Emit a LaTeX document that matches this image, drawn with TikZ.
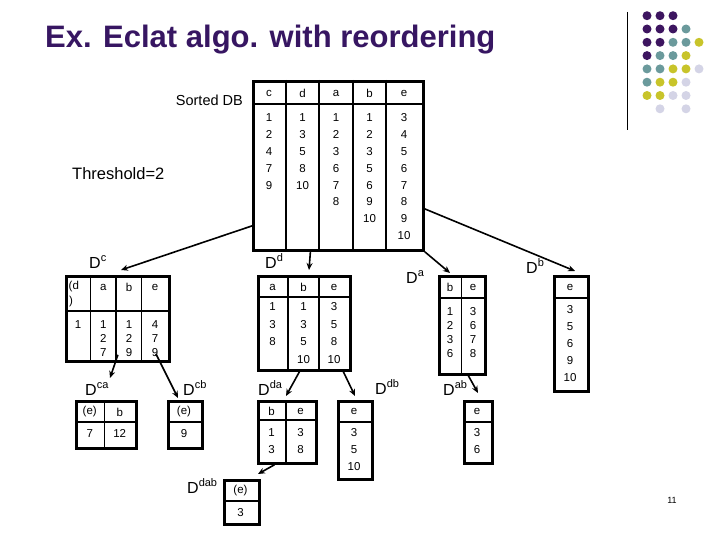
\documentclass[tikz,border=0pt]{standalone}
\usepackage{fontspec}
\setmainfont{Liberation Sans}
\usetikzlibrary{arrows.meta}
\definecolor{titlepurple}{RGB}{55,22,98}
\definecolor{dP}{RGB}{61,21,96}
\definecolor{dT}{RGB}{107,154,156}
\definecolor{dY}{RGB}{200,196,42}
\definecolor{dL}{RGB}{212,212,230}
\tikzset{
  dbtab/.style={draw, line width=2.8pt, inner sep=0pt, anchor=north west},
  divline/.style={line width=1.3pt},
  cell/.style={inner sep=0pt, font=\fontsize{11.5}{13}\selectfont},
  setlabel/.style={inner sep=0pt, anchor=base west, font=\fontsize{16}{16}\selectfont},
  arrow/.style={-{Stealth[length=7pt,width=6pt]}, line width=1.6pt}
}
\newcommand\dsub[1]{D\raisebox{7pt}{\fontsize{11}{11}\selectfont #1}}
\begin{document}
\begin{tikzpicture}[x=1pt,y=-1pt]
  \useasboundingbox (0,0) rectangle (720,540);
  \fill[white] (0,0) rectangle (720,540);

  % title and corner decoration
  \node[anchor=base west, inner sep=0pt, text=titlepurple, font=\fontsize{31}{31}\selectfont\bfseries] (title) at (45,48) {Ex. Eclat algo. with reordering};
  \draw[line width=1pt] (627,12) -- (627,130);
  \foreach \r/\cols in {1/{P,P,P},2/{P,P,P,T},3/{P,P,T,T,Y},4/{P,T,T,Y},5/{T,T,Y,Y,L},6/{T,Y,Y,L},7/{Y,Y,L,L}}
    \foreach \c [count=\i] in \cols
      \fill[fill=d\c] ({647+13*(\i-1)},{15.7+13.3*(\r-1)}) circle (4.5);
  \fill[dL] (660,108.8) circle (4.5);
  \fill[dL] (686,108.8) circle (4.5);

  \node[anchor=base east, inner sep=0pt, font=\fontsize{14.5}{14.5}\selectfont] (sortlbl) at (243,106) {Sorted DB};
  \node[anchor=base west, inner sep=0pt, font=\fontsize{16.5}{16.5}\selectfont] (thrlbl) at (72,180) {Threshold=2};

  % sorted database
  \node[dbtab, minimum width=170pt, minimum height=169pt] (sdb) at (252,80) {};
  \draw[divline] ([yshift=-24pt]sdb.north west) -- ([yshift=-24pt]sdb.north east);
  \foreach \dx in {34,67,101,134}
    \draw[divline] ([xshift=\dx pt]sdb.north west) -- ([xshift=\dx pt]sdb.south west);
  \foreach \x/\h in {269/c,302.5/d,336/a,369.5/b,404/e}
    \node[cell] (sdb-\h) at (\x,93) {\h};
  \foreach \x/\vals [count=\k] in {269/{1,2,4,7,9},302.5/{1,3,5,8,10},336/{1,2,3,6,7,8},369.5/{1,2,3,5,6,9,10},404/{3,4,5,6,7,8,9,10}}
    \foreach \v [count=\i] in \vals
      \node[cell] (sdb-\k-\i) at (\x,{118+16.8*(\i-1)}) {\v};

  % D^c
  \node[setlabel] (lbl-dc) at (89,268) {\dsub{c}};
  \node[dbtab, minimum width=103pt, minimum height=85pt] (dc) at (65,275) {};
  \draw[divline] ([yshift=-36pt]dc.north west) -- ([yshift=-36pt]dc.north east);
  \foreach \dx in {25.7,51,76.7}
    \draw[divline] ([xshift=\dx pt]dc.north west) -- ([xshift=\dx pt]dc.south west);
  \node[cell, anchor=west] (dc-d1) at (68.5,287) {(d};
  \node[cell, anchor=west] (dc-d2) at (69,301.5) {)};
  \foreach \x/\h in {103.3/a,129/b,155/e}
    \node[cell] (dc-\h) at (\x,287) {\h};
  \foreach \x/\vals [count=\k] in {78/{1},103.3/{1,2,7},129/{1,2,9},155/{4,7,9}}
    \foreach \v [count=\i] in \vals
      \node[cell] (dc-\k-\i) at (\x,{325+13.8*(\i-1)}) {\v};

  % D^d
  \node[setlabel] (lbl-dd) at (265,268) {\dsub{d}};
  \node[dbtab, minimum width=92pt, minimum height=94pt] (dd) at (257,275) {};
  \draw[divline] ([yshift=-22pt]dd.north west) -- ([yshift=-22pt]dd.north east);
  \foreach \dx in {31,62}
    \draw[divline] ([xshift=\dx pt]dd.north west) -- ([xshift=\dx pt]dd.south west);
  \foreach \x/\h in {272.5/a,303.5/b,334/e}
    \node[cell] (dd-\h) at (\x,287) {\h};
  \foreach \x/\vals [count=\k] in {272.5/{1,3,8},303.5/{1,3,5,10},334/{3,5,8,10}}
    \foreach \v [count=\i] in \vals
      \node[cell] (dd-\k-\i) at (\x,{306.7+17.6*(\i-1)}) {\v};

  % D^a
  \node[setlabel] (lbl-da) at (406,283) {\dsub{a}};
  \node[dbtab, minimum width=46pt, minimum height=98pt] (da) at (438,275) {};
  \draw[divline] ([yshift=-23pt]da.north west) -- ([yshift=-23pt]da.north east);
  \draw[divline] ([xshift=23.5pt]da.north west) -- ([xshift=23.5pt]da.south west);
  \foreach \x/\h in {450/b,473/e}
    \node[cell] (da-\h) at (\x,287.7) {\h};
  \foreach \x/\vals [count=\k] in {450/{1,2,3,6},473/{3,6,7,8}}
    \foreach \v [count=\i] in \vals
      \node[cell] (da-\k-\i) at (\x,{311.7+14*(\i-1)}) {\v};

  % D^b
  \node[setlabel] (lbl-db) at (526,273) {\dsub{b}};
  \node[dbtab, minimum width=34pt, minimum height=115pt] (db) at (553,275) {};
  \draw[divline] ([yshift=-23pt]db.north west) -- ([yshift=-23pt]db.north east);
  \node[cell] (db-e) at (570,287.7) {e};
  \foreach \v [count=\i] in {3,5,6,9,10}
    \node[cell] (db-1-\i) at (570,{310+17*(\i-1)}) {\v};

  % D^ca
  \node[setlabel] (lbl-dca) at (85,395) {\dsub{ca}};
  \node[dbtab, minimum width=60pt, minimum height=47pt] (dca) at (75,400) {};
  \draw[divline] ([yshift=-22pt]dca.north west) -- ([yshift=-22pt]dca.north east);
  \draw[divline] ([xshift=29.3pt]dca.north west) -- ([xshift=29.3pt]dca.south west);
  \node[cell] (dca-e) at (89.7,412) {(e)};
  \node[cell] (dca-b) at (119.7,412) {b};
  \node[cell] (dca-1-1) at (89.7,433.5) {7};
  \node[cell] (dca-2-1) at (119.7,433.5) {12};

  % D^cb
  \node[setlabel] (lbl-dcb) at (183,395) {\dsub{cb}};
  \node[dbtab, minimum width=34pt, minimum height=47pt] (dcb) at (167,400) {};
  \draw[divline] ([yshift=-22pt]dcb.north west) -- ([yshift=-22pt]dcb.north east);
  \node[cell] (dcb-e) at (184,412) {(e)};
  \node[cell] (dcb-1-1) at (184,433.5) {9};

  % D^da
  \node[setlabel] (lbl-dda) at (258,395) {\dsub{da}};
  \node[dbtab, minimum width=58pt, minimum height=62pt] (dda) at (257,400) {};
  \draw[divline] ([yshift=-20pt]dda.north west) -- ([yshift=-20pt]dda.north east);
  \draw[divline] ([xshift=29pt]dda.north west) -- ([xshift=29pt]dda.south west);
  \foreach \x/\h in {271.5/b,300.5/e}
    \node[cell] (dda-\h) at (\x,411.5) {\h};
  \foreach \x/\vals [count=\k] in {271.5/{1,3},300.5/{3,8}}
    \foreach \v [count=\i] in \vals
      \node[cell] (dda-\k-\i) at (\x,{433+16.5*(\i-1)}) {\v};

  % D^db
  \node[setlabel] (lbl-ddb) at (375,394) {\dsub{db}};
  \node[dbtab, minimum width=34pt, minimum height=78pt] (ddb) at (337,400) {};
  \draw[divline] ([yshift=-22pt]ddb.north west) -- ([yshift=-22pt]ddb.north east);
  \node[cell] (ddb-e) at (354,411.5) {e};
  \foreach \v [count=\i] in {3,5,10}
    \node[cell] (ddb-1-\i) at (354,{433+16.8*(\i-1)}) {\v};

  % D^ab
  \node[setlabel] (lbl-dab) at (443,395) {\dsub{ab}};
  \node[dbtab, minimum width=28pt, minimum height=62pt] (dab) at (463,400) {};
  \draw[divline] ([yshift=-22pt]dab.north west) -- ([yshift=-22pt]dab.north east);
  \node[cell] (dab-e) at (477,411.5) {e};
  \foreach \v [count=\i] in {3,6}
    \node[cell] (dab-1-\i) at (477,{433+16.8*(\i-1)}) {\v};

  % D^dab
  \node[setlabel] (lbl-ddab) at (187,493) {\dsub{dab}};
  \node[dbtab, minimum width=35pt, minimum height=44pt] (ddab) at (223,479) {};
  \draw[divline] ([yshift=-22pt]ddab.north west) -- ([yshift=-22pt]ddab.north east);
  \node[cell] (ddab-e) at (240.5,491) {(e)};
  \node[cell] (ddab-1-1) at (240.5,513) {3};

  % arrow ends
  \coordinate (dc-in) at (121,270);
  \coordinate (dd-in) at (309,270);
  \coordinate (da-in) at (450,273);
  \coordinate (db-in) at (575,271);
  \coordinate (dca-in) at (110,378);
  \coordinate (dcb-in) at (178,398);
  \coordinate (dda-in) at (286,396);
  \coordinate (ddb-in) at (355,396);
  \coordinate (dab-in) at (478,393);
  \coordinate (ddab-in) at (258,474);

  \draw[arrow] ([yshift=-60pt]sdb.west) -- (dc-in);
  \draw[arrow] ([xshift=-28pt]sdb.south) -- (dd-in);
  \draw[arrow] (sdb.south east) -- (da-in);
  \draw[arrow] ([yshift=-43pt]sdb.east) -- (db-in);
  \draw[arrow] ([yshift=8pt]dc.south) -- (dca-in);
  \draw[arrow] ([xshift=38pt,yshift=9pt]dc.south) -- (dcb-in);
  \draw[arrow] ([xshift=-5pt]dd.south) -- (dda-in);
  \draw[arrow] ([xshift=39pt]dd.south) -- (ddb-in);
  \draw[arrow] ([xshift=6pt]da.south) -- (dab-in);
  \draw[arrow] ([xshift=-13pt]dda.south) -- (ddab-in);

  \node[inner sep=0pt, font=\fontsize{9}{9}\selectfont] (pnum) at (672,500) {11};
\end{tikzpicture}
\end{document}
